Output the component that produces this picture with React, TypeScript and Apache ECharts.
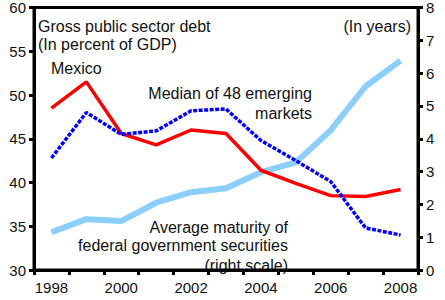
import React, { useEffect, useRef } from "react";
import * as echarts from "echarts";

const years = ["1998", "1999", "2000", "2001", "2002", "2003", "2004", "2005", "2006", "2007", "2008"];
const mexico = [48.5, 51.5, 45.6, 44.3, 46.0, 45.6, 41.4, 39.9, 38.5, 38.4, 39.2];
const median = [42.8, 48.0, 45.5, 45.9, 48.2, 48.4, 44.8, 42.5, 40.1, 34.8, 34.0];
const maturity = [1.15, 1.55, 1.49, 2.05, 2.37, 2.49, 2.98, 3.28, 4.26, 5.6, 6.38];

const FONT = "'Liberation Sans', Arial, sans-serif";

export default function App() {
  const ref = useRef<HTMLDivElement>(null);
  useEffect(() => {
    if (!ref.current) return;
    const chart = echarts.init(ref.current, null, { renderer: "svg" });
    const txt = (text: string, x: number, y: number, align: string = "left") => ({
      type: "text",
      x,
      y,
      z: -1,
      style: {
        text,
        fill: "#111",
        font: `16px ${FONT}`,
        textAlign: align,
        textVerticalAlign: "middle",
      },
    });
    chart.setOption({
      animation: false,
      grid: {
        left: 34,
        right: 27,
        top: 6,
        bottom: 30,
        show: true,
        borderColor: "#000",
        borderWidth: 3,
        backgroundColor: "transparent",
      },
      xAxis: {
        type: "category",
        data: years,
        boundaryGap: true,
        axisLine: { lineStyle: { color: "#000", width: 3 } },
        axisTick: { show: true, interval: 0, length: 5, lineStyle: { color: "#000", width: 3 } },
        axisLabel: { interval: 1, color: "#111", fontSize: 15, fontFamily: FONT, margin: 10 },
        splitLine: { show: false },
      },
      yAxis: [
        {
          type: "value",
          min: 30,
          max: 60,
          interval: 5,
          axisLine: { show: true, lineStyle: { color: "#000", width: 3 } },
          axisTick: { show: true, length: 5, lineStyle: { color: "#000", width: 3 } },
          axisLabel: { color: "#111", fontSize: 15, fontFamily: FONT, margin: 8 },
          splitLine: { show: false },
        },
        {
          type: "value",
          min: 0,
          max: 8,
          interval: 1,
          position: "right",
          axisLine: { show: true, lineStyle: { color: "#000", width: 3 } },
          axisTick: { show: true, length: 5, lineStyle: { color: "#000", width: 3 } },
          axisLabel: { color: "#111", fontSize: 15, fontFamily: FONT, margin: 8 },
          splitLine: { show: false },
        },
      ],
      series: [
        {
          type: "line",
          name: "Average maturity",
          yAxisIndex: 1,
          data: maturity,
          symbol: "none",
          lineStyle: { color: "#8ccfff", width: 6 },
          z: 2,
        },
        {
          type: "line",
          name: "Mexico",
          yAxisIndex: 0,
          data: mexico,
          symbol: "none",
          lineStyle: { color: "#ff0000", width: 3.5 },
          z: 3,
        },
        {
          type: "line",
          name: "Median",
          yAxisIndex: 0,
          data: median,
          symbol: "none",
          lineStyle: { color: "#0000ff", width: 3.5, type: [4, 1.5] },
          z: 4,
        },
      ],
      graphic: [
        txt("Gross public sector debt", 38, 26),
        txt("(In percent of GDP)", 38, 44),
        txt("(In years)", 411, 26, "right"),
        txt("Mexico", 51, 68),
        txt("Median of 48 emerging", 312, 93, "right"),
        txt("markets", 312, 113, "right"),
        txt("Average maturity of", 288, 227, "right"),
        txt("federal government securities", 288, 245, "right"),
        txt("(right scale)", 288, 265, "right"),
      ],
    });
    return () => chart.dispose();
  }, []);
  return (
    <div
      ref={ref}
      style={{ position: "fixed", left: 0, top: 0, width: 445, height: 300, background: "#fff" }}
    />
  );
}
